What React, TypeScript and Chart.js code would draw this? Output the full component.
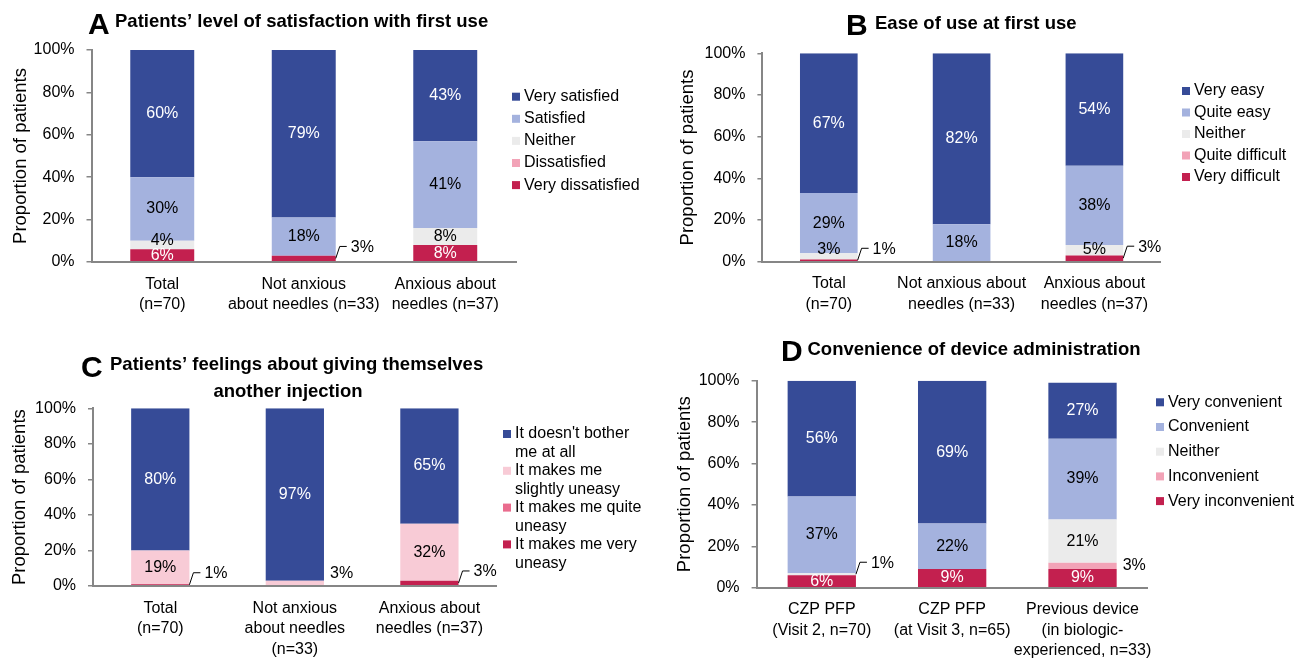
import React, { useEffect, useRef } from "react";
import { Chart, registerables } from "chart.js";

Chart.register(...registerables);

const FONT = '"Liberation Sans", Arial, Helvetica, sans-serif';
Chart.defaults.font.family = FONT;
Chart.defaults.color = "#000";

const DARK_BLUE = "#364B97";
const LIGHT_BLUE = "#A4B2DE";
const NEITHER_GRAY = "#EBEBEB";
const SOFT_PINK = "#F2A3B7";
const CRIMSON = "#C3204F";
const PALE_PINK = "#F8CBD6";
const MID_PINK = "#EA6C8E";
const AXIS_GRAY = "#868686";

const Y_TITLE = "Proportion of patients";

// ---------- Panel A: satisfaction with first use ----------
const aCategories = [["Total", "(n=70)"], ["Not anxious", "about needles (n=33)"], ["Anxious about", "needles (n=37)"]];
const aSeries = ["Very satisfied", "Satisfied", "Neither", "Dissatisfied", "Very dissatisfied"];
const aVerySatisfied = [60, 79, 43];
const aSatisfied = [30, 18, 41];
const aNeither = [4, 0, 8];
const aDissatisfied = [0, 0, 0];
const aVeryDissatisfied = [6, 3, 8];
const aCallouts = [{ series: 4, category: 1, style: "leader" }];

// ---------- Panel B: ease of use ----------
const bCategories = [["Total", "(n=70)"], ["Not anxious about", "needles (n=33)"], ["Anxious about", "needles (n=37)"]];
const bSeries = ["Very easy", "Quite easy", "Neither", "Quite difficult", "Very difficult"];
const bVeryEasy = [67, 82, 54];
const bQuiteEasy = [29, 18, 38];
const bNeither = [3, 0, 5];
const bQuiteDifficult = [0, 0, 0];
const bVeryDifficult = [1, 0, 3];
const bCallouts = [
  { series: 4, category: 0, style: "leader" },
  { series: 4, category: 2, style: "leader" },
];

// ---------- Panel C: feelings about another injection ----------
const cCategories = [["Total", "(n=70)"], ["Not anxious", "about needles", "(n=33)"], ["Anxious about", "needles (n=37)"]];
const cSeries = [
  ["It doesn't bother", "me at all"],
  ["It makes me", "slightly uneasy"],
  ["It makes me quite", "uneasy"],
  ["It makes me very", "uneasy"],
];
const cNotBothered = [80, 97, 65];
const cSlightlyUneasy = [19, 3, 32];
const cQuiteUneasy = [0, 0, 0];
const cVeryUneasy = [1, 0, 3];
const cCallouts = [
  { series: 3, category: 0, style: "leader" },
  { series: 1, category: 1, style: "beside" },
  { series: 3, category: 2, style: "leader" },
];

// ---------- Panel D: convenience ----------
const dCategories = [
  ["CZP PFP", "(Visit 2, n=70)"],
  ["CZP PFP", "(at Visit 3, n=65)"],
  ["Previous device", "(in biologic-", "experienced, n=33)"],
];
const dSeries = ["Very convenient", "Convenient", "Neither", "Inconvenient", "Very inconvenient"];
const dVeryConvenient = [56, 69, 27];
const dConvenient = [37, 22, 39];
const dNeither = [1, 0, 21];
const dInconvenient = [0, 0, 3];
const dVeryInconvenient = [6, 9, 9];
const dCallouts = [
  { series: 2, category: 0, style: "leader" },
  { series: 3, category: 2, style: "beside" },
];

const Y_MAX = 100;
const Y_STEP = 20;

type Callout = { series: number; category: number; style: string };
type Panel = {
  key: string;
  box: { left: number; top: number; width: number; height: number };
  plot: { left: number; right: number; top: number; bottom: number };
  yTitleX: number;
  letter: string;
  letterX: number;
  letterBaseline: number;
  titleLines: { text: string; x: number; y: number; align: CanvasTextAlign }[];
  categories: string[][];
  seriesNames: (string | string[])[];
  seriesValues: number[][];
  colors: string[];
  textColors: string[];
  callouts: Callout[];
  barPct: number;
  legend: { squareX: number; textX: number; firstY: number; rowGap: number; lineGap: number };
};

const panels: Panel[] = [
  {
    key: "A",
    box: { left: 0, top: 0, width: 650, height: 331 },
    plot: { left: 91.5, right: 516, top: 50, bottom: 262 },
    yTitleX: 21,
    letter: "A",
    letterX: 88,
    letterBaseline: 34,
    titleLines: [{ text: "Patients’ level of satisfaction with first use", x: 115, y: 22, align: "left" }],
    categories: aCategories,
    seriesNames: aSeries,
    seriesValues: [aVerySatisfied, aSatisfied, aNeither, aDissatisfied, aVeryDissatisfied],
    colors: [DARK_BLUE, LIGHT_BLUE, NEITHER_GRAY, SOFT_PINK, CRIMSON],
    textColors: ["#fff", "#000", "#000", "#000", "#fff"],
    callouts: aCallouts,
    barPct: 0.452,
    legend: { squareX: 512, textX: 524, firstY: 96.7, rowGap: 22.1, lineGap: 19 },
  },
  {
    key: "B",
    box: { left: 650, top: 0, width: 649, height: 331 },
    plot: { left: 762.4, right: 1160.8, top: 53.3, bottom: 261.7 },
    yTitleX: 688,
    letter: "B",
    letterX: 846,
    letterBaseline: 35,
    titleLines: [{ text: "Ease of use at first use", x: 875, y: 24, align: "left" }],
    categories: bCategories,
    seriesNames: bSeries,
    seriesValues: [bVeryEasy, bQuiteEasy, bNeither, bQuiteDifficult, bVeryDifficult],
    colors: [DARK_BLUE, LIGHT_BLUE, NEITHER_GRAY, SOFT_PINK, CRIMSON],
    textColors: ["#fff", "#000", "#000", "#000", "#fff"],
    callouts: bCallouts,
    barPct: 0.434,
    legend: { squareX: 1182, textX: 1194, firstY: 91, rowGap: 21.5, lineGap: 19 },
  },
  {
    key: "C",
    box: { left: 0, top: 331, width: 650, height: 331 },
    plot: { left: 93, right: 496.7, top: 408.3, bottom: 586 },
    yTitleX: 20,
    letter: "C",
    letterX: 81,
    letterBaseline: 376.7,
    titleLines: [
      { text: "Patients’ feelings about giving themselves", x: 110, y: 365, align: "left" },
      { text: "another injection", x: 288, y: 391.7, align: "center" },
    ],
    categories: cCategories,
    seriesNames: cSeries,
    seriesValues: [cNotBothered, cSlightlyUneasy, cQuiteUneasy, cVeryUneasy],
    colors: [DARK_BLUE, PALE_PINK, MID_PINK, CRIMSON],
    textColors: ["#fff", "#000", "#000", "#fff"],
    callouts: cCallouts,
    barPct: 0.433,
    legend: { squareX: 503, textX: 515, firstY: 434, rowGap: 36.8, lineGap: 18.8 },
  },
  {
    key: "D",
    box: { left: 650, top: 331, width: 649, height: 331 },
    plot: { left: 756.6, right: 1147.7, top: 380.7, bottom: 587.7 },
    yTitleX: 685,
    letter: "D",
    letterX: 781,
    letterBaseline: 360.7,
    titleLines: [{ text: "Convenience of device administration", x: 807.5, y: 350, align: "left" }],
    categories: dCategories,
    seriesNames: dSeries,
    seriesValues: [dVeryConvenient, dConvenient, dNeither, dInconvenient, dVeryInconvenient],
    colors: [DARK_BLUE, LIGHT_BLUE, NEITHER_GRAY, SOFT_PINK, CRIMSON],
    textColors: ["#fff", "#000", "#000", "#000", "#fff"],
    callouts: dCallouts,
    barPct: 0.524,
    legend: { squareX: 1156, textX: 1168, firstY: 402.3, rowGap: 24.7, lineGap: 19 },
  },
];

function makeDecoPlugin(p: Panel) {
  const ox = p.box.left;
  const oy = p.box.top;
  return {
    id: "panelDeco" + p.key,
    afterDraw(chart: any) {
      const ctx: CanvasRenderingContext2D = chart.ctx;
      ctx.save();

      // Title
      ctx.fillStyle = "#000";
      ctx.textBaseline = "alphabetic";
      ctx.textAlign = "left";
      ctx.font = `bold 30px ${FONT}`;
      ctx.fillText(p.letter, p.letterX - ox, p.letterBaseline - oy);
      ctx.font = `bold 18.5px ${FONT}`;
      ctx.textBaseline = "middle";
      p.titleLines.forEach((t) => {
        ctx.textAlign = t.align;
        ctx.fillText(t.text, t.x - ox, t.y - oy);
      });

      // Legend
      ctx.font = `16px ${FONT}`;
      ctx.textAlign = "left";
      ctx.textBaseline = "middle";
      p.seriesNames.forEach((name, i) => {
        const lines = Array.isArray(name) ? name : [name];
        const y0 = p.legend.firstY + i * p.legend.rowGap - oy;
        ctx.fillStyle = p.colors[i];
        ctx.fillRect(p.legend.squareX - ox, y0 - 4, 8, 8);
        ctx.fillStyle = "#000";
        lines.forEach((ln, j) => ctx.fillText(ln, p.legend.textX - ox, y0 + j * p.legend.lineGap));
      });

      // Data labels
      const yScale = chart.scales.y;
      const axisY = yScale.getPixelForValue(0);
      const nSeries = p.seriesValues.length;
      ctx.font = `16px ${FONT}`;
      ctx.textBaseline = "middle";
      for (let c = 0; c < p.categories.length; c++) {
        let lastY = Infinity;
        for (let di = 0; di < nSeries; di++) {
          const s = nSeries - 1 - di;
          const v = p.seriesValues[s][c];
          if (!v) continue;
          const el = chart.getDatasetMeta(di).data[c];
          const { x, y, base, width } = el.getProps(["x", "y", "base", "width"], true);
          const yc = (y + base) / 2;
          const right = x + width / 2;
          const text = v + "%";
          const call = p.callouts.find((k) => k.series === s && k.category === c);
          if (call && call.style === "leader") {
            const ey = yc - 12;
            ctx.strokeStyle = "#000";
            ctx.lineWidth = 1;
            ctx.beginPath();
            ctx.moveTo(right, yc);
            ctx.lineTo(right + 4, ey);
            ctx.lineTo(right + 11, ey);
            ctx.stroke();
            ctx.fillStyle = "#000";
            ctx.textAlign = "left";
            ctx.fillText(text, right + 15, ey + 1);
          } else if (call && call.style === "beside") {
            ctx.fillStyle = "#000";
            ctx.textAlign = "left";
            ctx.fillText(text, right + 6, Math.min(yc, axisY - 12));
          } else {
            let ly = yc;
            if (ly > lastY - 15) ly = lastY - 15;
            const col = p.textColors[s];
            if (col === "#000") ly = Math.min(ly, axisY - 12);
            ctx.fillStyle = col;
            ctx.textAlign = "center";
            ctx.fillText(text, x, ly);
            lastY = ly;
          }
        }
      }
      ctx.restore();
    },
  };
}

function makeChart(canvas: HTMLCanvasElement, p: Panel) {
  const W = p.box.width;
  const H = p.box.height;
  const plotLeft = p.plot.left - p.box.left;
  const plotRight = p.plot.right - p.box.left;
  const plotTop = p.plot.top - p.box.top;
  const plotBottom = p.plot.bottom - p.box.top;
  const names = p.seriesNames.map((n) => (Array.isArray(n) ? n.join(" ") : n));
  const datasets = p.seriesValues
    .map((vals, i) => ({
      label: names[i],
      data: vals,
      backgroundColor: p.colors[i],
      borderWidth: 0,
      barPercentage: p.barPct,
      categoryPercentage: 1,
    }))
    .reverse();

  return new Chart(canvas, {
    type: "bar",
    data: { labels: p.categories as any, datasets },
    options: {
      animation: false,
      responsive: false,
      maintainAspectRatio: false,
      devicePixelRatio: 1,
      events: [],
      layout: { padding: { left: 0, top: plotTop, right: W - plotRight, bottom: 0 } },
      plugins: {
        legend: { display: false },
        title: { display: false },
        tooltip: { enabled: false },
      },
      scales: {
        x: {
          stacked: true,
          grid: { display: false, drawTicks: false },
          border: { display: true, color: AXIS_GRAY, width: 2, z: 1 },
          ticks: {
            color: "#000",
            font: { size: 16, lineHeight: 1.28 },
            padding: 12,
            maxRotation: 0,
            minRotation: 0,
            autoSkip: false,
          },
          afterFit: (s: any) => {
            s.height = H - plotBottom;
          },
        },
        y: {
          stacked: true,
          min: 0,
          max: Y_MAX,
          ticks: {
            stepSize: Y_STEP,
            color: "#000",
            font: { size: 16 },
            padding: 12,
            callback: (v: any) => v + "%",
          },
          grid: {
            display: true,
            drawOnChartArea: false,
            drawTicks: true,
            tickLength: 5,
            color: AXIS_GRAY,
            lineWidth: 1.5,
          },
          border: { display: true, color: AXIS_GRAY, width: 2, z: 1 },
          title: {
            display: true,
            text: Y_TITLE,
            color: "#000",
            font: { size: 18.5 },
            padding: { top: p.yTitleX - p.box.left - 11.1, bottom: 0 },
          },
          afterFit: (s: any) => {
            s.width = plotLeft;
          },
        },
      },
    },
    plugins: [makeDecoPlugin(p)],
  } as any);
}

function PanelChart({ panel }: { panel: Panel }) {
  const ref = useRef<HTMLCanvasElement | null>(null);
  useEffect(() => {
    if (!ref.current) return;
    const chart = makeChart(ref.current, panel);
    return () => chart.destroy();
  }, [panel]);
  return (
    <canvas
      ref={ref}
      width={panel.box.width}
      height={panel.box.height}
      style={{
        position: "absolute",
        left: panel.box.left,
        top: panel.box.top,
        width: panel.box.width,
        height: panel.box.height,
      }}
    />
  );
}

export default function App() {
  return (
    <div
      style={{
        position: "absolute",
        left: 0,
        top: 0,
        width: 1299,
        height: 662,
        background: "#fff",
        overflow: "hidden",
      }}
    >
      {panels.map((p) => (
        <PanelChart key={p.key} panel={p} />
      ))}
    </div>
  );
}
